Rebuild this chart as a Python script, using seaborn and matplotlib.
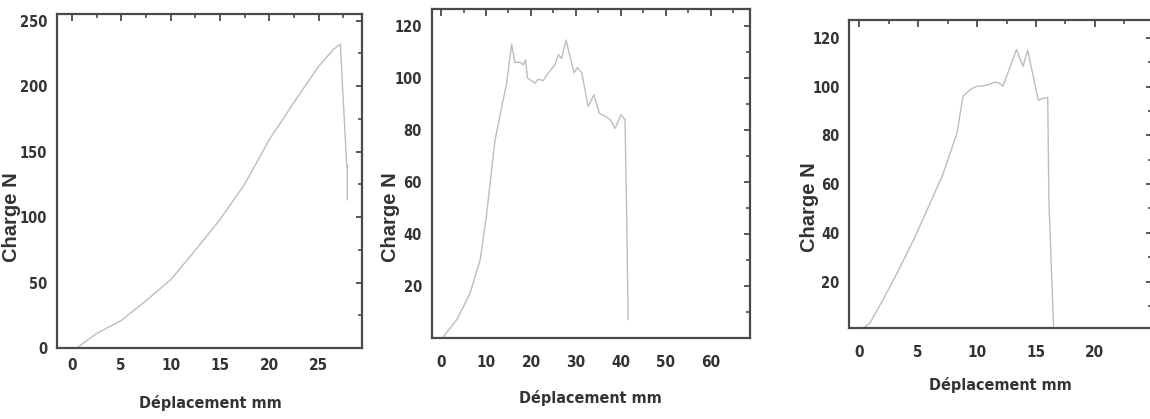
import matplotlib
matplotlib.use("Agg")
import matplotlib.pyplot as plt
import seaborn as sns
import pandas as pd
from matplotlib.ticker import MultipleLocator

sns.set_theme(style="white")
plt.rcParams['font.family'] = ['DejaVu Sans']
plt.rcParams['font.stretch'] = 'condensed'

# ---- data ----
x1 = [0.5, 2.5, 5, 7.5, 10, 12, 13.3, 15, 17.5, 20, 22.9, 25, 26.5, 27.2, 27.85, 27.9, 27.9]
y1 = [0, 11, 21, 36, 52, 70, 82, 98, 125, 159, 192, 215, 228, 232, 139, 140, 113]

x2 = [0.5, 3.5, 6.4, 8.7, 10.1, 12, 13.5, 14.6, 15.7, 16.4, 17.6, 18.3, 18.8, 19.2, 20.1,
      20.9, 21.6, 22.7, 23.9, 25.3, 26.1, 26.8, 27.8, 28.7, 29.6, 30.3, 31.3, 32.7, 34,
      35.2, 36.8, 37.6, 38.7, 40, 40.9, 41.3, 41.6]
y2 = [0.5, 7, 17, 30, 47, 76, 89, 98, 113, 106, 106, 105, 107, 100, 99,
      98, 99.5, 99, 102, 105, 109, 107.5, 114.6, 108, 102, 104, 102, 89, 93.5,
      86.4, 85, 84, 80.6, 85.8, 84, 45, 7]

x3 = [0.34, 0.9, 2, 3.2, 4.6, 6, 7.1, 8.3, 8.8, 9.25, 9.7, 10.1, 10.5, 11.1, 11.5, 11.9,
      12.2, 13.35, 13.9, 14.3, 15.2, 15.5, 16, 16.1, 16.5]
y3 = [0.9, 3, 12.5, 23.4, 37, 52, 64, 81, 96, 98, 99.6, 100.2, 100.2, 101, 101.9, 101.3,
      100.2, 115.2, 108.3, 114.9, 94.4, 95, 95.5, 53, 0.9]

xlabel = "Déplacement mm"
ylabel = "Charge N"

fig = plt.figure(figsize=(11.5, 4.19), dpi=100)

panels = [
    dict(x=x1, y=y1, rect=[0.0496, 0.1695, 0.2652, 0.797], xlim=(-1.5, 29.4), ylim=(0, 255),
         xmin=2.5, ymin=25, yticks=[0, 50, 100, 150, 200, 250], xpad=1,
         xticks=[0, 5, 10, 15, 20, 25], xl=(0.502, -0.165), yl=(-0.148, 0.392)),
    dict(x=x2, y=y2, rect=[0.3754, 0.1933, 0.2768, 0.7845], xlim=(-2.07, 68.7), ylim=(0, 126.4),
         xmin=5, ymin=10, yticks=[20, 40, 60, 80, 100, 120], xpad=6,
         xticks=[0, 10, 20, 30, 40, 50, 60], xl=(0.497, -0.183), yl=(-0.128, 0.368)),
    dict(x=x3, y=y3, rect=[0.7385, 0.2172, 0.2632, 0.7351], xlim=(-0.85, 24.85), ylim=(1, 127.3),
         xmin=2.5, ymin=10, yticks=[20, 40, 60, 80, 100, 120], xpad=6,
         xticks=[0, 5, 10, 15, 20], xl=(0.498, -0.185), yl=(-0.133, 0.393)),
]

spine_col = "#4a4a4a"
text_col = "#333333"
line_col = "#bdbdbd"

for p in panels:
    ax = fig.add_axes(p["rect"])
    df = pd.DataFrame({"x": p["x"], "y": p["y"]})
    sns.lineplot(data=df, x="x", y="y", ax=ax, sort=False, estimator=None,
                 color=line_col, linewidth=1.0)
    ax.set_xlim(*p["xlim"])
    ax.set_ylim(*p["ylim"])
    ax.set_xticks(p["xticks"])
    ax.set_yticks(p["yticks"])
    ax.xaxis.set_minor_locator(MultipleLocator(p["xmin"]))
    ax.yaxis.set_minor_locator(MultipleLocator(p["ymin"]))
    for s in ax.spines.values():
        s.set_color(spine_col)
        s.set_linewidth(1.6)
    ax.tick_params(axis="both", which="both", colors=spine_col, labelcolor=text_col,
                   top=False, right=False)
    ax.tick_params(axis="x", labelsize=11)
    ax.tick_params(axis="y", labelsize=10.5)
    ax.tick_params(axis="x", which="major", direction="out", length=6, width=1.3, pad=p["xpad"])
    ax.tick_params(axis="x", which="minor", direction="out", length=4, width=1.2)
    ax.tick_params(axis="y", which="major", direction="out", length=5, width=1.3, pad=2)
    ax.tick_params(axis="y", which="minor", direction="in", length=3, width=1.2)

    # top / right inward ticks
    sx = ax.secondary_xaxis("top")
    sx.set_xticks(p["xticks"])
    sx.xaxis.set_minor_locator(MultipleLocator(p["xmin"]))
    sx.tick_params(which="major", direction="in", length=5, width=1.3, colors=spine_col,
                   labeltop=False)
    sx.tick_params(which="minor", direction="in", length=3, width=1.2, colors=spine_col)
    sx.spines["top"].set_visible(False)
    sy = ax.secondary_yaxis("right")
    sy.set_yticks(p["yticks"])
    sy.yaxis.set_minor_locator(MultipleLocator(p["ymin"]))
    sy.tick_params(which="major", direction="in", length=4, width=1.3, colors=spine_col,
                   labelright=False)
    sy.tick_params(which="minor", direction="in", length=3, width=1.2, colors=spine_col)
    sy.spines["right"].set_visible(False)

    for lab in ax.get_xticklabels() + ax.get_yticklabels():
        lab.set_fontweight("bold")
    ax.set_xlabel(xlabel, fontsize=11.5, fontweight="bold", color=text_col)
    ax.set_ylabel(ylabel, fontsize=14.5, fontweight="bold", color=text_col,
                  family=["Liberation Sans", "DejaVu Sans"], fontstretch="normal")
    ax.xaxis.label.set_va("center")
    ax.yaxis.label.set_va("center")
    ax.xaxis.set_label_coords(*p["xl"])
    ax.yaxis.set_label_coords(*p["yl"])
    ax.set_facecolor("white")

fig.savefig("out.png", dpi=100, facecolor="white")
